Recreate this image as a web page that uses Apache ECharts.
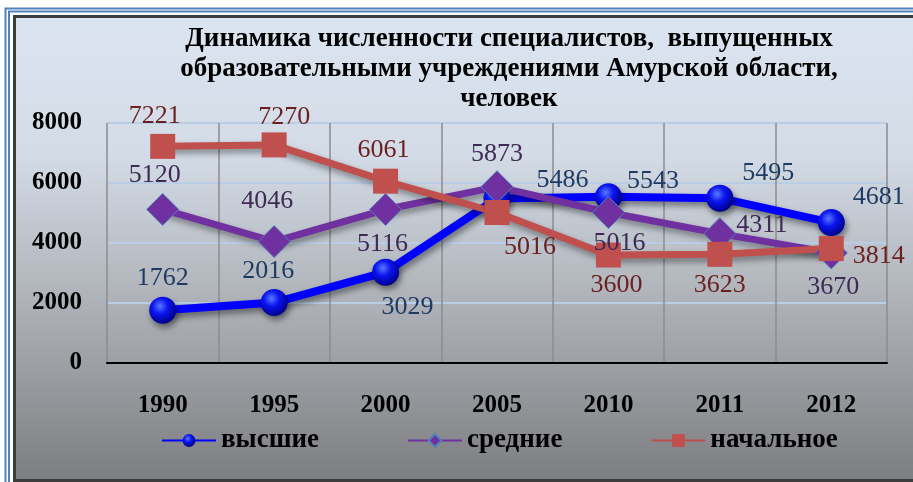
<!DOCTYPE html>
<html style="height: 100%">

<head>
    <meta charset="utf-8">
</head>

<body style="height: 100%; margin: 0; background: #fff">
    <div id="container" style="width: 913px; height: 482px"></div>
    <script type="text/javascript" src="https://cdn.jsdelivr.net/npm/echarts@6/dist/echarts.min.js"></script>
    <script type="text/javascript">
        // data
        var years = ['1990', '1995', '2000', '2005', '2010', '2011', '2012'];
        var higher = [1762, 2016, 3029, 5486, 5543, 5495, 4681];
        var secondary = [5120, 4046, 5116, 5873, 5016, 4311, 3670];
        var primary = [7221, 7270, 6061, 5016, 3600, 3623, 3814];
        var seriesNames = ['высшие', 'средние', 'начальное'];
        var titleText = 'Динамика численности специалистов,  выпущенных\nобразовательными учреждениями Амурской области,\nчеловек';

        // label placement (style only)
        var higherPos = ['top', 'top', 'bottom', 'right', 'right', 'right', 'right'];
        var higherOff = [[0, 0], [-6, 0], [22, 4], [21, -18], [0, -16], [4, -25], [3, -25]];
        var secondaryPos = ['top', 'top', 'bottom', 'top', 'bottom', 'right', 'bottom'];
        var secondaryOff = [[-8, 0], [-7, -6], [-3, 0], [0, 2], [11, -4], [-5, -8], [2, 0]];
        var primaryPos = ['top', 'top', 'top', 'bottom', 'bottom', 'bottom', 'right'];
        var primaryOff = [[-8, 0], [10, 3], [-2, 0], [33, 4], [8, 0], [0, 0], [4, 8]];

        var serif = '"Liberation Serif", "DejaVu Serif", serif';

        function withLabels(values, pos, off, color) {
            return values.map(function(v, i) {
                return {
                    value: v,
                    label: {
                        show: true,
                        position: pos[i],
                        offset: off[i],
                        color: color,
                        fontSize: 26,
                        fontFamily: serif
                    }
                };
            });
        }

        var dom = document.getElementById("container");
        var myChart = echarts.init(dom);
        var option = {
            backgroundColor: '#ffffff',
            animation: false,
            graphic: {
                elements: [{
                    type: 'rect',
                    z: -10,
                    shape: { x: 5.5, y: 8.5, width: 950, height: 520 },
                    style: { fill: null, stroke: '#4f81bd', lineWidth: 2 }
                }, {
                    type: 'rect',
                    z: -10,
                    shape: { x: 9, y: 11.5, width: 950, height: 520 },
                    style: { fill: null, stroke: '#4f81bd', lineWidth: 2 }
                }, {
                    type: 'rect',
                    z: -9,
                    shape: { x: 14.5, y: 16.5, width: 950, height: 464 },
                    style: {
                        stroke: '#3c3c3c',
                        lineWidth: 3,
                        fill: new echarts.graphic.LinearGradient(0, 0, 0, 1, [
                            { offset: 0, color: '#dbe5f1' },
                            { offset: 0.3, color: '#d3dbe6' },
                            { offset: 0.6, color: '#b0b4ba' },
                            { offset: 1, color: '#7c7d80' }
                        ])
                    }
                }]
            },
            title: {
                text: titleText,
                left: 504,
                top: 19,
                textAlign: 'center',
                textStyle: {
                    fontFamily: serif,
                    fontWeight: 'bold',
                    fontSize: 27,
                    lineHeight: 30,
                    color: '#000'
                }
            },
            legend: {
                left: 156,
                top: 422,
                itemWidth: 54,
                itemHeight: 16,
                itemGap: 88,
                data: seriesNames,
                textStyle: {
                    fontFamily: serif,
                    fontWeight: 'bold',
                    fontSize: 27,
                    color: '#000'
                }
            },
            grid: {
                left: 107,
                right: 26,
                top: 123,
                bottom: 119,
                containLabel: false
            },
            xAxis: {
                type: 'category',
                data: years,
                boundaryGap: true,
                axisLine: { lineStyle: { color: '#000', width: 2 } },
                axisTick: { show: false },
                splitLine: { show: true, lineStyle: { color: '#8c8c8c', width: 1.5 } },
                axisLabel: {
                    margin: 30,
                    color: '#000',
                    fontFamily: serif,
                    fontWeight: 'bold',
                    fontSize: 25
                }
            },
            yAxis: {
                type: 'value',
                min: 0,
                max: 8000,
                interval: 2000,
                axisLine: { show: false },
                axisTick: { show: false },
                splitLine: { lineStyle: { color: '#b9cde5', width: 2 } },
                axisLabel: {
                    margin: 25,
                    color: '#000',
                    fontFamily: serif,
                    fontWeight: 'bold',
                    fontSize: 25,
                    formatter: function(v) { return String(v); }
                }
            },
            series: [{
                name: seriesNames[0],
                type: 'line',
                data: withLabels(higher, higherPos, higherOff, '#1f3b63'),
                symbol: 'circle',
                symbolSize: 27,
                lineStyle: {
                    color: '#0000ff',
                    width: 8,
                    shadowColor: 'rgba(0,0,0,0.45)',
                    shadowBlur: 6,
                    shadowOffsetX: 2,
                    shadowOffsetY: 4
                },
                itemStyle: {
                    color: new echarts.graphic.RadialGradient(0.4, 0.35, 0.65, [
                        { offset: 0, color: '#5a78ff' },
                        { offset: 0.45, color: '#0a14f0' },
                        { offset: 1, color: '#00008c' }
                    ]),
                    shadowColor: 'rgba(0,0,0,0.45)',
                    shadowBlur: 6,
                    shadowOffsetX: 2,
                    shadowOffsetY: 4
                }
            }, {
                name: seriesNames[1],
                type: 'line',
                data: withLabels(secondary, secondaryPos, secondaryOff, '#3f2a54'),
                symbol: 'diamond',
                symbolSize: 32,
                lineStyle: {
                    color: '#7030a0',
                    width: 7,
                    shadowColor: 'rgba(0,0,0,0.4)',
                    shadowBlur: 6,
                    shadowOffsetX: 2,
                    shadowOffsetY: 4
                },
                itemStyle: {
                    color: '#7030a0',
                    borderColor: '#4f81bd',
                    borderWidth: 1
                }
            }, {
                name: seriesNames[2],
                type: 'line',
                data: withLabels(primary, primaryPos, primaryOff, '#6b1f1f'),
                symbol: 'rect',
                symbolSize: 25,
                lineStyle: {
                    color: '#c0504d',
                    width: 7,
                    shadowColor: 'rgba(0,0,0,0.4)',
                    shadowBlur: 6,
                    shadowOffsetX: 2,
                    shadowOffsetY: 4
                },
                itemStyle: {
                    color: '#c0504d'
                }
            }]
        };
        myChart.setOption(option);
    </script>
</body>

</html>
